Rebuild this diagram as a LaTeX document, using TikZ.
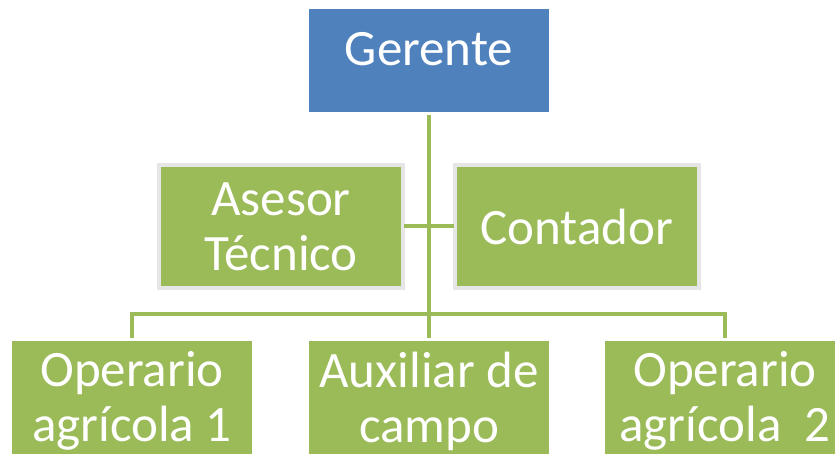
\documentclass[tikz,border=0pt]{standalone}
\usepackage{fontspec}
\setmainfont{Carlito}
\definecolor{gerenteblue}{HTML}{4F81BD}
\definecolor{staffgreen}{HTML}{9BBB59}
\definecolor{glowgrey}{HTML}{E6E6E6}
\begin{document}
\begin{tikzpicture}[x=1pt,y=-1pt]
	\tikzstyle{every node}=[rectangle,inner sep=0pt,outer sep=3pt,text=white,align=center,font=\fontsize{51}{55}\selectfont]
	\tikzstyle{chief}=[fill=gerenteblue,minimum width=240pt,minimum height=103pt,text depth=24pt]
	\tikzstyle{advisor}=[fill=staffgreen,minimum width=240pt,minimum height=119pt,preaction={draw=glowgrey,line width=8pt}]
	\tikzstyle{worker}=[fill=staffgreen,minimum width=240pt,minimum height=120pt]
	\tikzstyle{link}=[draw=staffgreen,line width=4pt]
	%\tikzstyle{link}=[draw=staffgreen,line width=3pt,rounded corners=1pt]
	\useasboundingbox (0,0) rectangle (835,454);
	\clip (0,0) rectangle (835,454);
	\node[chief] (gerente) at (429,60.5) {Gerente};
	\node[advisor] (asesor) at (281,226.5) {Asesor\\Técnico};
	\node[advisor] (contador) at (577,226.5) {Contador};
	\node[worker] (operario1) at (132,401) {Operario\\agrícola 1};
	\node[worker] (auxiliar) at (429,401) {Auxiliar de\\campo};
	\node[worker] (operario2) at (725,401) {Operario\\agrícola\ \ 2};
	\coordinate (bus) at (429,314);
	\draw[link] (gerente) -- (auxiliar);
	\draw[link] (asesor) -- (contador);
	\draw[link] (operario1.north) |- (bus) -| (operario2.north);
\end{tikzpicture}
\end{document}
